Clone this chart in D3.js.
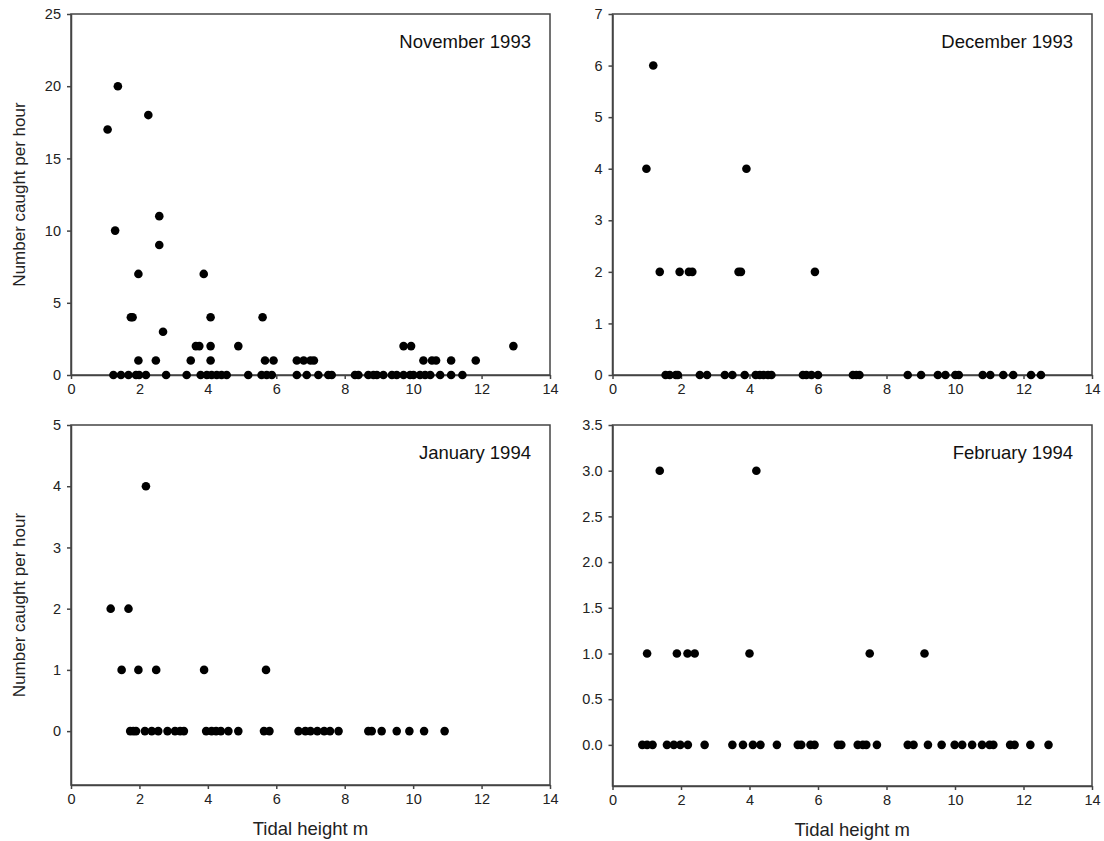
<!DOCTYPE html>
<html lang="en">
<head>
<meta charset="UTF-8" />
<title>Catch rate vs tidal height</title>
<script src="https://d3js.org/d3.v7.min.js"></script>
<style>
  body { margin: 0; background: #fff; }
  svg { display: block; font-family: "Liberation Sans", Arial, sans-serif; }
  .axis path, .axis line { stroke: #444; stroke-width: 1.5; }
  .axis text { font-size: 14.5px; fill: #222; font-family: "Liberation Sans", Arial, sans-serif; }
  .frame { fill: none; stroke: #444; stroke-width: 1.5; }
  .title { font-size: 18.5px; fill: #111; text-anchor: end; }
  .axis-label { font-size: 17px; fill: #222; text-anchor: middle; }
  .x-label { font-size: 18.5px; }
</style>
</head>
<body>
<svg id="chart" width="1104" height="841"></svg>
<script>
// Data: tidal height (m) and number caught per hour
const novHeight = [1.07, 1.37, 2.26, 1.29, 2.58, 2.58, 1.97, 3.88, 1.75, 1.8, 4.08, 5.6, 2.69, 3.65, 3.75, 4.08, 4.89,
  1.97, 2.48, 3.5, 4.08, 5.67, 5.92, 6.6, 6.8, 7.0, 7.1, 9.72, 9.94, 10.3, 10.55, 10.67, 11.11, 11.83, 12.93,
  1.24, 1.46, 1.68, 1.9, 1.99, 2.19, 2.78, 3.38, 3.79, 3.97, 4.11, 4.26, 4.4, 4.55, 5.18, 5.57, 5.72, 5.87,
  6.6, 6.89, 7.23, 7.52, 7.62, 8.3, 8.4, 8.69, 8.84, 8.94, 9.13, 9.38, 9.52, 9.72, 9.91, 10.01, 10.2, 10.35,
  10.5, 10.79, 11.11, 11.44];
const novCatch = [17, 20, 18, 10, 11, 9, 7, 7, 4, 4, 4, 4, 3, 2, 2, 2, 2,
  1, 1, 1, 1, 1, 1, 1, 1, 1, 1, 2, 2, 1, 1, 1, 1, 1, 2,
  0, 0, 0, 0, 0, 0, 0, 0, 0, 0, 0, 0, 0, 0, 0, 0, 0, 0,
  0, 0, 0, 0, 0, 0, 0, 0, 0, 0, 0, 0, 0, 0, 0, 0, 0, 0,
  0, 0, 0, 0];

const decHeight = [1.19, 0.99, 3.91, 1.38, 1.96, 2.23, 2.33, 3.68, 3.75, 5.91,
  1.55, 1.67, 1.85, 1.91, 2.55, 2.76, 3.28, 3.5, 3.86, 4.18, 4.3, 4.41, 4.54, 4.64, 5.56, 5.66, 5.81, 6.0,
  7.02, 7.12, 7.21, 8.62, 9.01, 9.5, 9.72, 10.01, 10.11, 10.81, 11.03, 11.41, 11.7, 12.22, 12.51];
const decCatch = [6, 4, 4, 2, 2, 2, 2, 2, 2, 2,
  0, 0, 0, 0, 0, 0, 0, 0, 0, 0, 0, 0, 0, 0, 0, 0, 0, 0,
  0, 0, 0, 0, 0, 0, 0, 0, 0, 0, 0, 0, 0, 0, 0];

const janHeight = [2.19, 1.16, 1.68, 1.48, 1.97, 2.49, 3.89, 5.7,
  1.73, 1.82, 1.9, 2.16, 2.36, 2.55, 2.82, 3.04, 3.19, 3.3, 3.95, 4.11, 4.24, 4.38, 4.6, 4.89, 5.64, 5.8,
  6.65, 6.85, 7.0, 7.2, 7.4, 7.57, 7.82, 8.69, 8.79, 9.08, 9.52, 9.89, 10.32, 10.92];
const janCatch = [4, 2, 2, 1, 1, 1, 1, 1,
  0, 0, 0, 0, 0, 0, 0, 0, 0, 0, 0, 0, 0, 0, 0, 0, 0, 0,
  0, 0, 0, 0, 0, 0, 0, 0, 0, 0, 0, 0, 0, 0];

const febHeight = [1.38, 4.2, 1.01, 1.88, 2.19, 2.4, 4.0, 7.51, 9.11,
  0.87, 1.01, 1.17, 1.59, 1.79, 1.98, 2.2, 2.69, 3.5, 3.81, 4.1, 4.32, 4.8, 5.41, 5.51, 5.78, 5.9, 6.58, 6.68,
  7.16, 7.31, 7.41, 7.72, 8.62, 8.79, 9.21, 9.61, 9.99, 10.21, 10.5, 10.79, 11.01, 11.12, 11.61, 11.74, 12.2, 12.73];
const febCatch = [3, 3, 1, 1, 1, 1, 1, 1, 1,
  0, 0, 0, 0, 0, 0, 0, 0, 0, 0, 0, 0, 0, 0, 0, 0, 0, 0, 0,
  0, 0, 0, 0, 0, 0, 0, 0, 0, 0, 0, 0, 0, 0, 0, 0, 0, 0];

const xTicks = [0, 2, 4, 6, 8, 10, 12, 14];
const panelTitles = ["November 1993", "December 1993", "January 1994", "February 1994"];

const svg = d3.select("#chart");

const panels = [
  { title: panelTitles[0], xs: novHeight, ys: novCatch, box: [71, 550, 14, 375], yDom: [0, 25],
    yTicks: [0, 5, 10, 15, 20, 25], fmt: d3.format("d"), yLabel: true, xLabel: false },
  { title: panelTitles[1], xs: decHeight, ys: decCatch, box: [612.5, 1092, 14, 375], yDom: [0, 7],
    yTicks: [0, 1, 2, 3, 4, 5, 6, 7], fmt: d3.format("d"), yLabel: false, xLabel: false },
  { title: panelTitles[2], xs: janHeight, ys: janCatch, box: [71, 550, 425, 785], yDom: [-0.88, 5],
    yTicks: [0, 1, 2, 3, 4, 5], fmt: d3.format("d"), yLabel: true, xLabel: true },
  { title: panelTitles[3], xs: febHeight, ys: febCatch, box: [612.5, 1092, 425, 786], yDom: [-0.45, 3.5],
    yTicks: [0, 0.5, 1, 1.5, 2, 2.5, 3, 3.5], fmt: d3.format(".1f"), yLabel: false, xLabel: true }
];

panels.forEach(p => {
  const [x0, x1, y0, y1] = p.box;
  const x = d3.scaleLinear().domain([0, 14]).range([x0, x1]);
  const y = d3.scaleLinear().domain(p.yDom).range([y1, y0]);
  const g = svg.append("g");

  g.append("rect").attr("class", "frame")
    .attr("x", x0).attr("y", y0).attr("width", x1 - x0).attr("height", y1 - y0);

  g.append("g").attr("class", "axis")
    .attr("transform", `translate(0,${y1})`)
    .call(d3.axisBottom(x).tickValues(xTicks).tickSize(4).tickPadding(5).tickSizeOuter(0));

  g.append("g").attr("class", "axis")
    .attr("transform", `translate(${x0},0)`)
    .call(d3.axisLeft(y).tickValues(p.yTicks).tickFormat(p.fmt).tickSize(4).tickPadding(6).tickSizeOuter(0));

  g.append("g").selectAll("circle")
    .data(d3.zip(p.xs, p.ys))
    .join("circle")
    .attr("cx", d => x(d[0]))
    .attr("cy", d => y(d[1]))
    .attr("r", 4.3)
    .attr("fill", "#000");

  g.append("text").attr("class", "title")
    .attr("x", x1 - 19).attr("y", y0 + 34)
    .text(p.title);

  if (p.yLabel) {
    g.append("text").attr("class", "axis-label")
      .attr("transform", `translate(25,${(y0 + y1) / 2}) rotate(-90)`)
      .text("Number caught per hour");
  }
  if (p.xLabel) {
    g.append("text").attr("class", "axis-label x-label")
      .attr("x", (x0 + x1) / 2).attr("y", y1 + 50)
      .text("Tidal height m");
  }
});
</script>
</body>
</html>
